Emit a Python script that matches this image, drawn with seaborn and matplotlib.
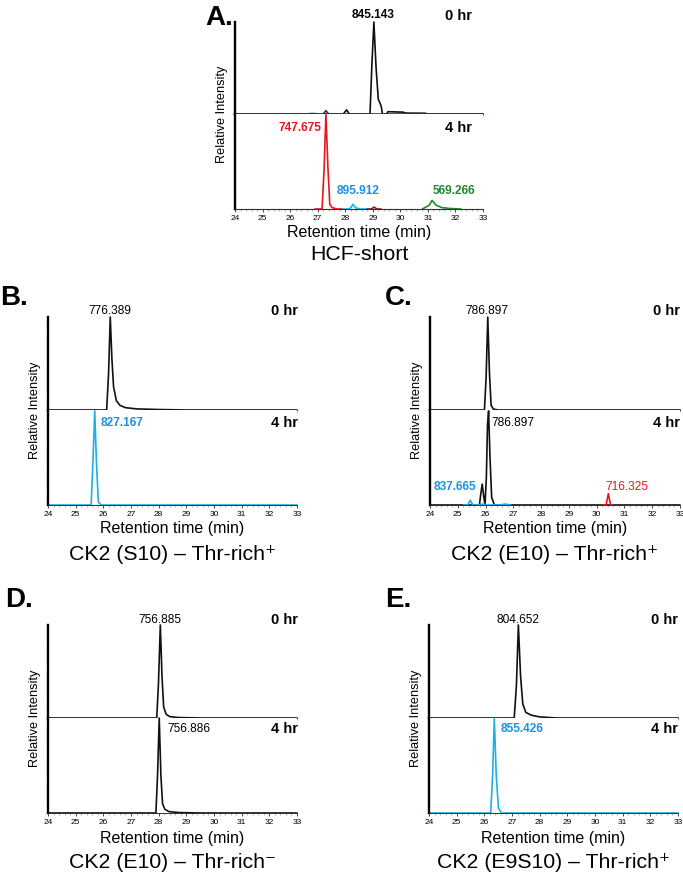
import matplotlib
matplotlib.use("Agg")
import matplotlib.pyplot as plt
from matplotlib.ticker import MultipleLocator
import seaborn as sns
import pandas as pd

sns.set_style("ticks")
plt.rcParams['font.family'] = ['Liberation Sans', 'DejaVu Sans']
plt.rcParams['text.color'] = 'black'
plt.rcParams['xtick.color'] = 'black'
plt.rcParams['xtick.labelcolor'] = 'black'

BLACK = "#111111"
RED = "#e8161c"
BLUE_TXT = "#1f8fe0"
CYAN = "#1ab2e4"
GREEN = "#1e8a2c"
NAVY = "#26307a"
MAROON = "#8a1c22"

# ---- traces (retention time, relative intensity) ----
# A. HCF-short
a0_black_t = [24, 27.93, 28.05, 28.15, 28.9, 28.97, 29.04, 29.12, 29.2, 29.26, 29.31, 29.35,
              29.5, 29.55, 30.1, 30.2, 30.9, 31.0, 33]
a0_black_i = [0, 0, 0.045, 0, 0, 0.55, 1.0, 0.5, 0.16, 0.12, 0.08, 0,
              0, 0.025, 0.02, 0.01, 0.008, 0, 0]
a0_navy_t = [24, 26.5, 26.8, 27.15, 27.2, 27.3, 27.4, 27.5, 33]
a0_navy_i = [0, 0, 0.005, 0, 0, 0.036, 0, 0, 0]
a4_black_t = [24, 33]
a4_black_i = [0, 0]
a4_red_t = [26.9, 27.16, 27.23, 27.3, 27.37, 27.44, 27.52, 27.7, 27.9]
a4_red_i = [0, 0, 0.4, 1.0, 0.45, 0.05, 0.015, 0, 0]
a4_blue_t = [27.9, 28.1, 28.2, 28.28, 28.38, 28.55, 28.8]
a4_blue_i = [0, 0, 0.012, 0.05, 0.012, 0, 0]
a4_maroon_t = [28.8, 28.95, 29.05, 29.15, 29.3]
a4_maroon_i = [0, 0, 0.02, 0, 0]
a4_green_t = [30.8, 31.05, 31.15, 31.3, 31.5, 31.8, 32.2]
a4_green_i = [0, 0.04, 0.09, 0.04, 0.015, 0.005, 0]

# B. CK2 (S10) - Thr-rich+
b0_black_t = [24, 26.12, 26.19, 26.25, 26.31, 26.37, 26.47, 26.6, 26.8, 27.2, 28, 29, 33]
b0_black_i = [0, 0, 0.4, 1.0, 0.55, 0.25, 0.1, 0.05, 0.025, 0.012, 0.005, 0, 0]
b4_cyan_t = [24, 25.56, 25.63, 25.69, 25.75, 25.82, 25.92, 33]
b4_cyan_i = [0, 0, 0.5, 0.99, 0.45, 0.03, 0, 0]

# C. CK2 (E10) - Thr-rich+
c0_black_t = [24, 25.96, 26.02, 26.08, 26.14, 26.2, 26.28, 26.45, 33]
c0_black_i = [0, 0, 0.35, 1.0, 0.4, 0.05, 0.01, 0, 0]
c4_black_t = [24, 25.78, 25.83, 25.88, 25.93, 25.98, 26.03, 26.07, 26.11, 26.16, 26.22, 26.32, 33]
c4_black_i = [0, 0, 0.12, 0.22, 0.1, 0, 0.3, 0.85, 0.99, 0.5, 0.08, 0, 0]
c4_cyan_t = [25.2, 25.36, 25.45, 25.54, 25.7, 25.95, 26.0, 26.05, 26.5, 26.7, 26.9]
c4_cyan_i = [0, 0, 0.05, 0, 0, 0.01, 0, 0, 0, 0.01, 0]
c4_red_t = [30.2, 30.34, 30.42, 30.5, 30.6]
c4_red_i = [0, 0, 0.12, 0, 0]

# D. CK2 (E10) - Thr-rich-
d0_black_t = [24, 27.93, 27.99, 28.06, 28.12, 28.18, 28.27, 28.4, 28.7, 29.5, 33]
d0_black_i = [0, 0, 0.35, 1.0, 0.45, 0.12, 0.04, 0.015, 0.005, 0, 0]
d4_black_t = [24, 27.9, 27.96, 28.02, 28.08, 28.14, 28.22, 28.37, 28.7, 29.5, 33]
d4_black_i = [0, 0, 0.4, 1.0, 0.4, 0.1, 0.04, 0.015, 0.005, 0, 0]

# E. CK2 (E9S10) - Thr-rich+
e0_black_t = [24, 27.08, 27.16, 27.23, 27.31, 27.39, 27.5, 27.7, 28.0, 28.6, 33]
e0_black_i = [0, 0, 0.35, 1.0, 0.45, 0.15, 0.06, 0.03, 0.012, 0, 0]
e4_cyan_t = [24, 26.23, 26.3, 26.36, 26.43, 26.51, 26.62, 33]
e4_cyan_i = [0, 0, 0.4, 1.0, 0.4, 0.05, 0, 0]

x_ticks = [24, 25, 26, 27, 28, 29, 30, 31, 32, 33]

W, H = 683, 874
fig = plt.figure(figsize=(W / 100, H / 100), dpi=100)


def px_axes(left, right, top, bottom):
    return fig.add_axes([left / W, 1 - bottom / H, (right - left) / W, (bottom - top) / H])


def style_axes(ax, show_x):
    ax.set_xlim(24, 33)
    ax.set_ylim(0, 1.0)
    sns.despine(ax=ax)
    ax.spines['left'].set_linewidth(1.7)
    ax.spines['left'].set_color("black")
    ax.spines['bottom'].set_linewidth(0.7)
    ax.spines['bottom'].set_color("#333333")
    ax.xaxis.set_minor_locator(MultipleLocator(0.2))
    ax.yaxis.set_major_locator(MultipleLocator(0.1))
    ax.set_yticklabels([])
    ax.tick_params(axis='y', length=1.5, width=0.4, color="#999999")
    ax.tick_params(axis='x', which='minor', length=1.2, width=0.4, color="#777777")
    if show_x:
        ax.set_xticks(x_ticks)
        ax.tick_params(axis='x', which='major', length=2.5, width=0.5, labelsize=6, pad=1.5)
    else:
        ax.set_xticks([])
    ax.set_xlabel("")
    ax.set_ylabel("")


def trace(ax, t, i, color, lw=1.2):
    df = pd.DataFrame({"t": t, "i": i})
    sns.lineplot(data=df, x="t", y="i", ax=ax, color=color, lw=lw,
                 sort=False, estimator=None, clip_on=False)


def panel(left, right, top, mid, bottom, letter, letter_xy, title, title_y, xlabel_y, draw_top, draw_bot, labels):
    ax0 = px_axes(left, right, top, mid)
    ax1 = px_axes(left, right, mid, bottom)
    draw_top(ax0)
    draw_bot(ax1)
    style_axes(ax0, False)
    style_axes(ax1, True)
    for which, txt, x, y, color, ha, bold in labels:
        ax = ax0 if which == 0 else ax1
        size = 10.5 if txt.endswith("hr") else 8.6
        ax.text(x, y, txt, color=color, ha=ha, va='center', fontsize=size,
                fontweight='bold' if bold else 'normal', clip_on=False)
    cx = (left + right) / 2
    fig.text(cx / W, 1 - xlabel_y / H, "Retention time (min)", ha='center', va='center', fontsize=11.5)
    fig.text(cx / W, 1 - title_y / H, title, ha='center', va='center', fontsize=15.3)
    fig.text((left - 13) / W, 1 - mid / H, "Relative Intensity", rotation=90, ha='center', va='center', fontsize=9.2)
    fig.text(letter_xy[0] / W, 1 - letter_xy[1] / H, letter, ha='left', va='center',
             fontsize=20, fontweight='bold')


def hr_labels(right_x, y0, y1):
    return [(0, "0 hr", right_x, y0, "black", 'right', True),
            (1, "4 hr", right_x, y1, "black", 'right', True)]


# Panel A
panel(235, 483, 22, 114, 209, "A.", (205, 18), "HCF-short", 255, 232,
      lambda ax: (trace(ax, a0_black_t, a0_black_i, BLACK), trace(ax, a0_navy_t, a0_navy_i, NAVY)),
      lambda ax: (trace(ax, a4_black_t, a4_black_i, BLACK, 0.8), trace(ax, a4_red_t, a4_red_i, RED),
                  trace(ax, a4_blue_t, a4_blue_i, CYAN), trace(ax, a4_maroon_t, a4_maroon_i, MAROON),
                  trace(ax, a4_green_t, a4_green_i, GREEN)),
      hr_labels(32.6, 1.07, 0.85) + [
          (0, "845.143", 29.0, 1.076, "black", 'center', True),
          (1, "747.675", 27.12, 0.85, RED, 'right', True),
          (1, "895.912", 28.46, 0.19, BLUE_TXT, 'center', True),
          (1, "569.266", 31.95, 0.19, GREEN, 'center', True)])

# Panel B
panel(48, 297, 317, 410, 505, "B.", (0, 298), "CK2 (S10) \u2013 Thr-rich\u207a", 555, 529,
      lambda ax: trace(ax, b0_black_t, b0_black_i, BLACK),
      lambda ax: trace(ax, b4_cyan_t, b4_cyan_i, CYAN),
      hr_labels(33.05, 1.065, 0.863) + [
          (0, "776.389", 26.25, 1.065, "black", 'center', False),
          (1, "827.167", 25.9, 0.863, BLUE_TXT, 'left', True)])

# Panel C
panel(430, 680, 317, 410, 505, "C.", (385, 298), "CK2 (E10) \u2013 Thr-rich\u207a", 555, 528,
      lambda ax: trace(ax, c0_black_t, c0_black_i, BLACK),
      lambda ax: (trace(ax, c4_black_t, c4_black_i, BLACK), trace(ax, c4_cyan_t, c4_cyan_i, CYAN),
                  trace(ax, c4_red_t, c4_red_i, RED)),
      hr_labels(33.0, 1.065, 0.863) + [
          (0, "786.897", 26.05, 1.065, "black", 'center', False),
          (1, "786.897", 26.22, 0.863, "black", 'left', False),
          (1, "837.665", 24.9, 0.19, BLUE_TXT, 'center', True),
          (1, "716.325", 31.1, 0.19, RED, 'center', False)])

# Panel D
panel(48, 297, 625, 718, 813, "D.", (5, 600), "CK2 (E10) \u2013 Thr-rich\u207b", 862, 838,
      lambda ax: trace(ax, d0_black_t, d0_black_i, BLACK),
      lambda ax: trace(ax, d4_black_t, d4_black_i, BLACK),
      hr_labels(33.05, 1.055, 0.88) + [
          (0, "756.885", 28.05, 1.055, "black", 'center', False),
          (1, "756.886", 28.3, 0.88, "black", 'left', False)])

# Panel E
panel(429, 678, 625, 718, 813, "E.", (385, 600), "CK2 (E9S10) \u2013 Thr-rich\u207a", 862, 838,
      lambda ax: trace(ax, e0_black_t, e0_black_i, BLACK),
      lambda ax: trace(ax, e4_cyan_t, e4_cyan_i, CYAN),
      hr_labels(33.0, 1.055, 0.88) + [
          (0, "804.652", 27.22, 1.055, "black", 'center', False),
          (1, "855.426", 26.6, 0.88, BLUE_TXT, 'left', True)])

fig.savefig("out.png", dpi=100)
